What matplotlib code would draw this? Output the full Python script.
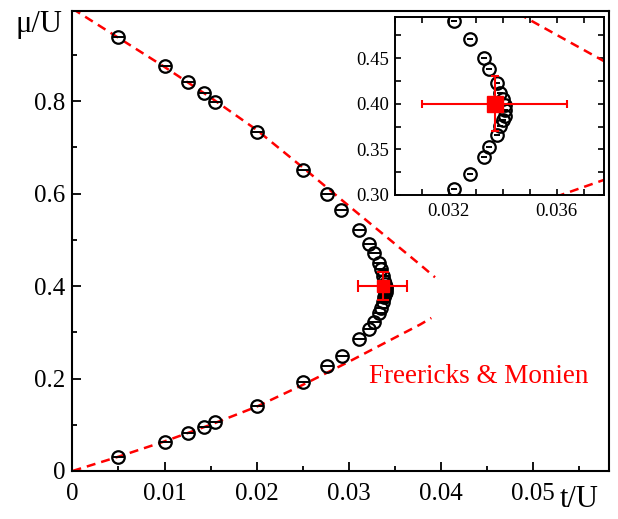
import matplotlib
matplotlib.use('Agg')
import matplotlib.pyplot as plt
from matplotlib.ticker import MultipleLocator, FormatStrFormatter, FuncFormatter

plt.rcParams['font.family'] = ['Liberation Serif', 'DejaVu Serif']

# QMC phase boundary (Mott lobe)
t_qmc = [0.005, 0.01, 0.0125, 0.0143, 0.0155, 0.02, 0.025, 0.0277, 0.0292, 0.0311,
         0.0322, 0.0328, 0.0333, 0.0335, 0.0338, 0.0339, 0.0340, 0.0341, 0.0341,
         0.0341, 0.0340, 0.0339, 0.0338, 0.0335, 0.0333, 0.0328, 0.0322,
         0.0311, 0.0293, 0.0277, 0.025, 0.02, 0.0155, 0.0143, 0.0125, 0.01, 0.005]
mu_qmc = [0.938, 0.876, 0.842, 0.817, 0.799, 0.734, 0.651, 0.599, 0.564, 0.521,
          0.491, 0.471, 0.450, 0.438, 0.4225, 0.412, 0.405, 0.399, 0.393,
          0.387, 0.382, 0.376, 0.366, 0.353, 0.342, 0.323, 0.307,
          0.285, 0.249, 0.227, 0.192, 0.141, 0.105, 0.0945, 0.0815, 0.0634, 0.031]

# Freericks & Monien strong-coupling boundaries
t_fm_up = [0, 0.005, 0.01, 0.015, 0.02, 0.025, 0.03, 0.035, 0.0378, 0.0394]
mu_fm_up = [1.0, 0.937, 0.874, 0.808, 0.738, 0.657, 0.574, 0.492, 0.446, 0.419]
t_fm_lo = [0, 0.005, 0.01, 0.015, 0.02, 0.025, 0.03, 0.035, 0.0378, 0.039]
mu_fm_lo = [0, 0.031, 0.064, 0.1, 0.139, 0.186, 0.236, 0.288, 0.317, 0.331]

# critical point with error bars
t_c = [0.0337]
mu_c = [0.40]
t_c_err = [0.0027]
mu_c_err = [0.03]

red = '#ff0000'


def draw(ax, ms_sq, cap, dash_ms):
    ax.plot(t_fm_up, mu_fm_up, color=red, lw=1.8, dashes=(3.6, 2.4), zorder=2)
    ax.plot(t_fm_lo, mu_fm_lo, color=red, lw=1.8, dashes=(3.6, 2.4), zorder=2)
    ax.plot(t_qmc, mu_qmc, 'o', ms=9, mfc='none', mec='black', mew=1.6, zorder=3)
    ax.plot(t_qmc, mu_qmc, '_', ms=dash_ms, mec='black', mew=1.4, zorder=3)
    ax.errorbar(t_c, mu_c, xerr=t_c_err, yerr=mu_c_err, fmt='s', color=red,
                ms=ms_sq, elinewidth=1.5, capsize=cap, capthick=1.5, zorder=5)


fig = plt.figure(figsize=(6.18, 5.19), dpi=100)
ax = fig.add_axes([0.1173, 0.0925, 0.868, 0.8863])
draw(ax, 8.5, 4, 8)
ax.set_xlim(0, 0.0583)
ax.set_ylim(0, 0.995)
ax.xaxis.set_major_locator(MultipleLocator(0.01))
ax.xaxis.set_minor_locator(MultipleLocator(0.005))
ax.yaxis.set_major_locator(MultipleLocator(0.2))
ax.yaxis.set_minor_locator(MultipleLocator(0.1))
fmt = FuncFormatter(lambda v, p: '%g' % round(v, 6))
ax.xaxis.set_major_formatter(fmt)
ax.yaxis.set_major_formatter(fmt)
ax.tick_params(which='both', direction='in', top=False, right=False, width=1.3,
               labelsize=18)
ax.tick_params(which='major', length=6.5)
ax.tick_params(which='minor', length=3.5)
ax.tick_params(axis='x', pad=9)
ax.tick_params(axis='y', pad=5)
for s in ax.spines.values():
    s.set_linewidth(1.5)

ax.text(0.0441, 0.205, 'Freericks & Monien', color=red, fontsize=19.5,
        ha='center', va='center')
fig.text(0.025, 0.952, '\u03bc/U', fontsize=22, ha='left', va='center')
fig.text(0.905, 0.038, 't/U', fontsize=22, ha='left', va='center')

# inset
axi = fig.add_axes([0.639, 0.6243, 0.338, 0.3436])
draw(axi, 11.5, 3, 4)
axi.set_xlim(0.0300, 0.03775)
axi.set_ylim(0.30, 0.4955)
axi.xaxis.set_major_locator(MultipleLocator(0.004))
axi.xaxis.set_minor_locator(MultipleLocator(0.001))
axi.yaxis.set_major_locator(MultipleLocator(0.05))
axi.yaxis.set_minor_locator(MultipleLocator(0.025))
axi.xaxis.set_major_formatter(FormatStrFormatter('%.3f'))
axi.yaxis.set_major_formatter(FormatStrFormatter('%.2f'))
axi.tick_params(which='both', direction='in', top=True, right=True, width=1.2,
                length=4.5, labelsize=13.5)
axi.tick_params(axis='x', pad=6)
axi.tick_params(axis='y', pad=4)
for s in axi.spines.values():
    s.set_linewidth(1.4)

fig.savefig('out.png', dpi=100)
